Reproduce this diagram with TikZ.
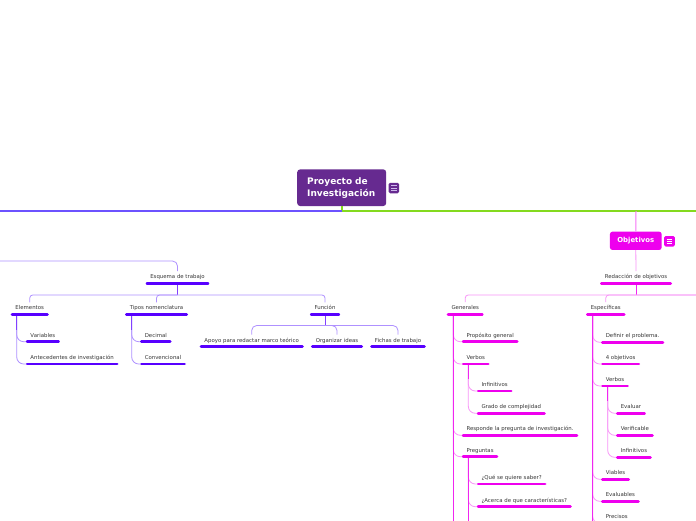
\documentclass[tikz,border=0pt]{standalone}
\usepackage{fontspec}
\setmainfont{DejaVu Sans}
\definecolor{morado}{RGB}{102, 42, 144}
\definecolor{lavanda}{RGB}{205, 185, 235}
\definecolor{azul}{RGB}{108, 82, 255}
\definecolor{verde}{RGB}{132, 218, 30}
\definecolor{violeta}{RGB}{88, 0, 255}
\definecolor{lila}{RGB}{175, 145, 255}
\definecolor{fucsia}{RGB}{238, 0, 238}
\definecolor{rosa}{RGB}{248, 150, 248}
\definecolor{texto}{RGB}{55, 55, 55}
\tikzset{
    tema/.style={font=\fontsize{5.4}{6}\selectfont, text=texto,
        inner xsep=4.6pt, inner ysep=3pt, text height=4.2pt, text depth=1.5pt},
    barraizq/.style={violeta, line width=2.8pt, line cap=round},
    barrader/.style={fucsia, line width=2.8pt, line cap=round},
    conizq/.style={lila, line width=0.8pt},
    conder/.style={rosa, line width=0.8pt},
    talloizq/.style={violeta!75, line width=0.9pt},
    talloder/.style={fucsia!85, line width=0.9pt}
}

\begin{document}
\begin{tikzpicture}[x=1pt, y=-1pt]

    \path[use as bounding box, fill=white] (0, 0) rectangle (696, 520);

    \node[fill=morado, rounded corners=3pt, text=white,
        font=\bfseries\fontsize{9}{12}\selectfont, text width=69pt, align=left,
        minimum width=89pt, minimum height=36.7pt, inner xsep=10pt]
        (proyecto) at (341.7, 187.7) {Proyecto de\\Investigación};
    \node[fill=morado, rounded corners=1.5pt, minimum size=10.5pt, inner sep=0pt]
        (menuproy) at (393.8, 188) {};
    \foreach \dy in {-2.2, 0, 2.2} {%
        \draw[lavanda, line width=0.7pt]
            ([xshift=-2.8pt, yshift=\dy pt]menuproy.center) -- ++(5.6, 0);
    };

    \coordinate (raiz) at (341.7, 211);
    \coordinate (bordeazul) at (-5, 211);
    \coordinate (bordeverde) at (701, 211);
    \draw[verde, line width=2pt] (proyecto.south) -- (raiz) -- (bordeverde);
    \draw[azul, line width=2pt] (raiz) -- (bordeazul);

    \node[fill=fucsia, rounded corners=2.5pt, text=white,
        font=\bfseries\fontsize{6.9}{8}\selectfont,
        minimum width=51.7pt, minimum height=18.3pt]
        (objetivos) at (635.8, 240.8) {Objetivos};
    \node[fill=fucsia, rounded corners=1.5pt, minimum size=10.6pt, inner sep=0pt]
        (menuobj) at (669.5, 241.3) {};
    \foreach \dy in {-2.2, 0, 2.2} {%
        \draw[white, line width=0.7pt]
            ([xshift=-2.8pt, yshift=\dy pt]menuobj.center) -- ++(5.6, 0);
    };

    \node[tema, anchor=south] (esquema) at (177.5, 283.3) {Esquema de trabajo};
    \node[tema, anchor=south west] (elementos) at (10.7, 314.5) {Elementos};
    \node[tema, anchor=south west] (tipos) at (125, 314.5) {Tipos nomenclatura};
    \node[tema, anchor=south] (funcion) at (325, 314.5) {Función};
    \node[tema, anchor=south west] (variables) at (25.7, 341.7) {Variables};
    \node[tema, anchor=south west] (antecedentes) at (25.7, 364) {Antecedentes de investigación};
    \node[tema, anchor=south west] (decimal) at (140, 341.7) {Decimal};
    \node[tema, anchor=south west] (convencional) at (140, 364) {Convencional};
    \node[tema, anchor=south] (apoyo) at (251.7, 346.7) {Apoyo para redactar marco teórico};
    \node[tema, anchor=south] (organizar) at (337, 346.7) {Organizar ideas};
    \node[tema, anchor=south] (fichas) at (398, 346.7) {Fichas de trabajo};

    \node[tema, anchor=south] (redaccion) at (636, 283.3) {Redacción de objetivos};
    \node[tema, anchor=south west] (generales) at (446.7, 314.3) {Generales};
    \node[tema, anchor=south west] (especificas) at (586, 314.3) {Específicas};
    \node[tema, anchor=south west] (proposito) at (461.7, 341.7) {Propósito general};
    \node[tema, anchor=south west] (verbosgen) at (461.7, 364) {Verbos};
    \node[tema, anchor=south west] (infinitivosgen) at (476.7, 391) {Infinitivos};
    \node[tema, anchor=south west] (grado) at (476.7, 413.3) {Grado de complejidad};
    \node[tema, anchor=south west] (responde) at (461.7, 435.3) {Responde la pregunta de investigación.};
    \node[tema, anchor=south west] (preguntas) at (461.7, 456.7) {Preguntas};
    \node[tema, anchor=south west] (quesaber) at (476.7, 484) {¿Qué se quiere saber?};
    \node[tema, anchor=south west] (acerca) at (476.7, 506.7) {¿Acerca de que características?};
    \node[tema, anchor=south west] (definir) at (601, 342.3) {Definir el problema.};
    \node[tema, anchor=south west] (cuatro) at (601, 364) {4 objetivos};
    \node[tema, anchor=south west] (verbosesp) at (601, 386) {Verbos};
    \node[tema, anchor=south west] (evaluar) at (616, 413.3) {Evaluar};
    \node[tema, anchor=south west] (verificable) at (616, 435.3) {Verificable};
    \node[tema, anchor=south west] (infinitivosesp) at (616, 457.3) {Infinitivos};
    \node[tema, anchor=south west] (viables) at (601, 479.3) {Viables};
    \node[tema, anchor=south west] (evaluables) at (601, 501.3) {Evaluables};
    \node[tema, anchor=south west] (precisos) at (601, 523.3) {Precisos};

    \coordinate (esqini) at (-5, 261);
    \coordinate (esqbase) at (177.5, 295);
    \coordinate (funcbase) at (325, 325.5);
    \draw[conizq, rounded corners=5pt] (esqini) -| (esquema.north);
    \draw[talloizq] (esquema.south) -- (esqbase);
    \draw[conizq, rounded corners=3pt] (elementos.north) |- (esqbase) -| (funcion.north);
    \draw[conizq, rounded corners=3pt] (tipos.north) |- (esqbase);
    \draw[talloizq] (funcion.south) -- (funcbase);
    \draw[conizq, rounded corners=5pt] (apoyo.north) |- (funcbase) -| (fichas.north);
    \draw[conizq, rounded corners=5pt] (organizar.north) |- (funcbase);

    \foreach \hijo in {variables, antecedentes} {%
        \draw[conizq, rounded corners=7pt]
            ([xshift=6pt]elementos.south west) |- (\hijo.south west);
    };
    \draw[talloizq] ([xshift=6pt]elementos.south west) -- ([xshift=6pt]elementos.south west |- variables.north);
    \foreach \hijo in {decimal, convencional} {%
        \draw[conizq, rounded corners=7pt]
            ([xshift=6.7pt]tipos.south west) |- (\hijo.south west);
    };
    \draw[talloizq] ([xshift=6.7pt]tipos.south west) -- ([xshift=6.7pt]tipos.south west |- decimal.north);

    \coordinate (ramaobj) at (636, 211);
    \coordinate (redbase) at (636, 295);
    \coordinate (redfin) at (701, 295);
    \coordinate (genfin) at (453.3, 530);
    \coordinate (pregfin) at (468.3, 530);
    \coordinate (espfin) at (592.7, 530);
    \draw[fucsia!55, line width=1pt] (ramaobj) -- (objetivos.north);
    \draw[conder] (objetivos.south) -- (redaccion.north);
    \draw[talloder] (redaccion.south) -- (redbase);
    \draw[conder, rounded corners=3pt] (generales.north) |- (redfin);
    \draw[conder, rounded corners=3pt] (especificas.north) |- (redfin);

    \foreach \hijo in {proposito, verbosgen, responde, preguntas} {%
        \draw[conder, rounded corners=7pt]
            ([xshift=6.6pt]generales.south west) |- (\hijo.south west);
    };
    \draw[talloder] ([xshift=6.6pt]generales.south west) -- (genfin);
    \foreach \hijo in {infinitivosgen, grado} {%
        \draw[conder, rounded corners=7pt]
            ([xshift=6.6pt]verbosgen.south west) |- (\hijo.south west);
    };
    \draw[talloder] ([xshift=6.6pt]verbosgen.south west) -- ([xshift=6.6pt]verbosgen.south west |- infinitivosgen.north);
    \foreach \hijo in {quesaber, acerca} {%
        \draw[conder, rounded corners=7pt]
            ([xshift=6.6pt]preguntas.south west) |- (\hijo.south west);
    };
    \draw[talloder] ([xshift=6.6pt]preguntas.south west) -- (pregfin);

    \foreach \hijo in {definir, cuatro, verbosesp, viables, evaluables, precisos} {%
        \draw[conder, rounded corners=7pt]
            ([xshift=6.7pt]especificas.south west) |- (\hijo.south west);
    };
    \draw[talloder] ([xshift=6.7pt]especificas.south west) -- (espfin);
    \foreach \hijo in {evaluar, verificable, infinitivosesp} {%
        \draw[conder, rounded corners=7pt]
            ([xshift=6.7pt]verbosesp.south west) |- (\hijo.south west);
    };
    \draw[talloder] ([xshift=6.7pt]verbosesp.south west) -- ([xshift=6.7pt]verbosesp.south west |- evaluar.north);

    \foreach \n in {esquema, elementos, tipos, funcion, variables, antecedentes,
        decimal, convencional, apoyo, organizar, fichas} {%
        \draw[barraizq] ([xshift=1.4pt]\n.south west) -- ([xshift=-1.4pt]\n.south east);
    };
    \foreach \n in {redaccion, generales, especificas, proposito, verbosgen,
        infinitivosgen, grado, responde, preguntas, quesaber, acerca, definir,
        cuatro, verbosesp, evaluar, verificable, infinitivosesp, viables,
        evaluables, precisos} {%
        \draw[barrader] ([xshift=1.4pt]\n.south west) -- ([xshift=-1.4pt]\n.south east);
    };

\end{tikzpicture}
\end{document}
